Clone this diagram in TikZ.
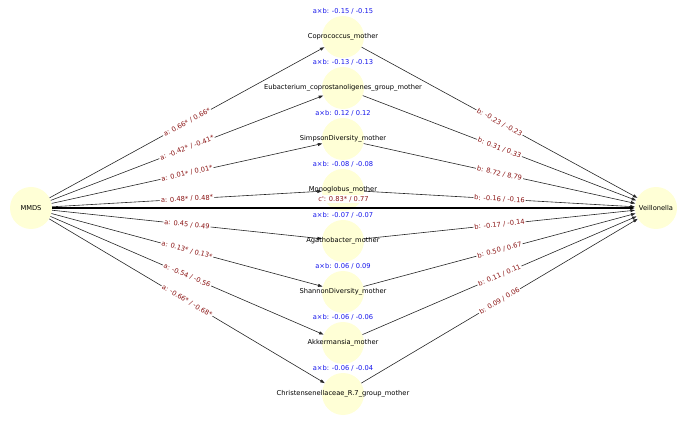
\documentclass[tikz,border=0pt]{standalone}
\usepackage{fontspec}
\setmainfont{DejaVu Sans}
\definecolor{nodeyellow}{RGB}{255,255,214}
\definecolor{labred}{RGB}{139,20,20}
\definecolor{labblue}{RGB}{20,20,235}
\usetikzlibrary{arrows.meta}

\begin{document}
\begin{tikzpicture}[x=1pt, y=-1pt,
  font=\fontsize{6.7}{8}\selectfont,
  n/.style={circle, fill=nodeyellow, minimum size=42pt, inner sep=0pt},
  ab/.style={text=labblue, label distance=-1.5pt},
  lab/.style={fill=white, text=labred, inner sep=1pt, sloped, midway},
  ar/.style={-{Triangle[length=4.5pt, width=3pt]}, line width=0.6pt, black!85}]
\useasboundingbox (0,0) rectangle (685,427);
\node[n, label=center:MMDS] (mmds) at (31,208) {};
\node[n, label=center:Veillonella] (veil) at (656,208) {};
\node[n, label=center:Coprococcus\_mother, label={[ab]above:a×b: -0.15 / -0.15}] (cop) at (343,37) {};
\node[n, label=center:Eubacterium\_coprostanoligenes\_group\_mother, label={[ab]above:a×b: -0.13 / -0.13}] (eub) at (343,88) {};
\node[n, label=center:SimpsonDiversity\_mother, label={[ab]above:a×b: 0.12 / 0.12}] (simp) at (343,139) {};
\node[n, label={[ab]above:a×b: -0.08 / -0.08}] (mono) at (343,190) {};
\node[n, label={[ab]above:a×b: -0.07 / -0.07}] (aga) at (343,241) {};
\node[n, label=center:ShannonDiversity\_mother, label={[ab]above:a×b: 0.06 / 0.09}] (shan) at (343,292) {};
\node[n, label=center:Akkermansia\_mother, label={[ab]above:a×b: -0.06 / -0.06}] (akk) at (343,343) {};
\node[n, label=center:Christensenellaceae\_R.7\_group\_mother, label={[ab]above:a×b: -0.06 / -0.04}] (chr) at (343,394) {};
% paths through a
\draw[ar](mmds)--(cop) node[lab]{a: 0.66* / 0.66*};
\draw[ar](mmds)--(eub) node[lab]{a: -0.42* / -0.41*};
\draw[ar](mmds)--(simp) node[lab]{a: 0.01* / 0.01*};
\draw[ar](mmds)--(mono) node[lab]{a: 0.48* / 0.48*};
\draw[ar](mmds)--(aga) node[lab]{a: 0.45 / 0.49};
\draw[ar](mmds)--(shan) node[lab]{a: 0.13* / 0.13*};
\draw[ar](mmds)--(akk) node[lab]{a: -0.54 / -0.56};
\draw[ar](mmds)--(chr) node[lab]{a: -0.66* / -0.68*};
% paths through b
\draw[ar](cop)--(veil) node[lab]{b: -0.23 / -0.23};
\draw[ar](eub)--(veil) node[lab]{b: 0.31 / 0.33};
\draw[ar](simp)--(veil) node[lab]{b: 8.72 / 8.79};
\draw[ar](mono)--(veil) node[lab]{b: -0.16 / -0.16};
\draw[ar](aga)--(veil) node[lab]{b: -0.17 / -0.14};
\draw[ar](shan)--(veil) node[lab]{b: 0.50 / 0.67};
\draw[ar](akk)--(veil) node[lab]{b: 0.11 / 0.11};
\draw[ar](chr)--(veil) node[lab]{b: 0.09 / 0.06};
% direct effect
\draw[ar, line width=1.6pt, black](mmds)--(veil) node[lab, sloped=false, yshift=9pt]{c\textquotesingle: 0.83* / 0.77};
\node (monot) at (mono) {Monoglobus\_mother};
\node (agat) at (aga) {Agathobacter\_mother};
\end{tikzpicture}
\end{document}
